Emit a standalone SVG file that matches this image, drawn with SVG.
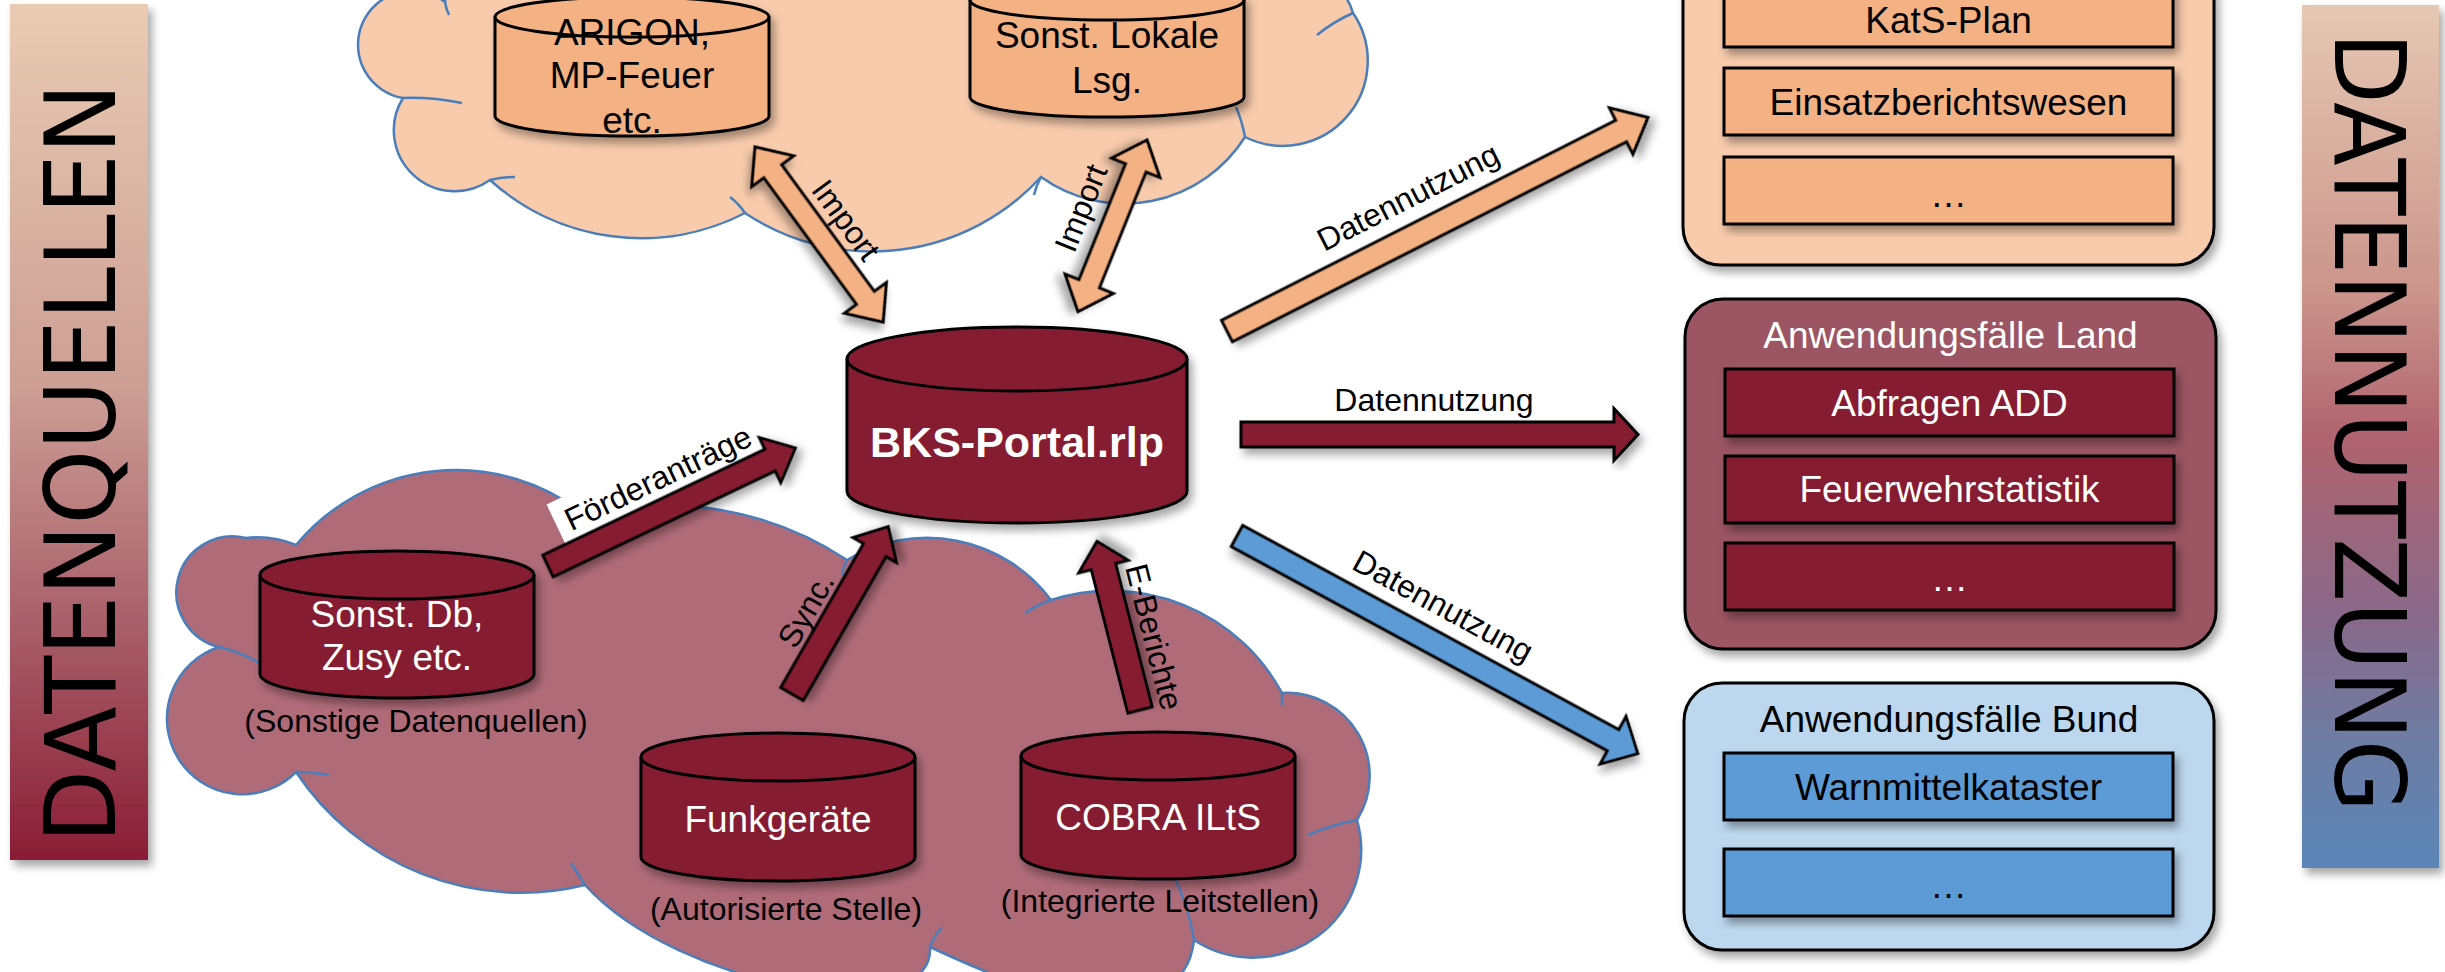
<svg xmlns="http://www.w3.org/2000/svg" width="2445" height="972" viewBox="0 0 2445 972">
<defs>
<linearGradient id="gL" x1="0" y1="0" x2="0" y2="1">
<stop offset="0" stop-color="#E9CBB3"/>
<stop offset="0.45" stop-color="#CC9E94"/>
<stop offset="0.72" stop-color="#A9606B"/>
<stop offset="1" stop-color="#8A1D35"/>
</linearGradient>
<linearGradient id="gR" x1="0" y1="0" x2="0" y2="1">
<stop offset="0" stop-color="#E6C8B2"/>
<stop offset="0.33" stop-color="#CB958C"/>
<stop offset="0.5" stop-color="#B0646F"/>
<stop offset="0.7" stop-color="#8A6888"/>
<stop offset="0.85" stop-color="#6E7CA2"/>
<stop offset="1" stop-color="#5B86B8"/>
</linearGradient>
<filter id="sh" x="-20%" y="-20%" width="140%" height="140%">
<feDropShadow dx="4" dy="6" stdDeviation="4" flood-color="#000" flood-opacity="0.35"/>
</filter>
</defs>
<style>
text { font-family: "Liberation Sans", Arial, sans-serif; }
.c { text-anchor: middle; font-size: 37px; }
.s { text-anchor: middle; font-size: 32px; }
.w { fill: #fff; }
.k { fill: #000; }
.cyl { stroke: #000; stroke-width: 3; }
.peach { fill: #F4B183; }
.mar { fill: #861C33; }
.blue { fill: #5B9BD5; }
.cloud { stroke: #4A7EBB; stroke-width: 2.5; }
.inner { fill: none; stroke: #4A7EBB; stroke-width: 2.5; }
.arr { stroke: #000; stroke-width: 3; stroke-linejoin: miter; filter: url(#sh); }
.box { stroke: #000; stroke-width: 3; filter: url(#sh); }
.bar { font-family: "DejaVu Sans", sans-serif; font-size: 98px; fill: #000; }
</style>

<!-- Side bars -->
<g id="bar-datenquellen">
<rect x="10" y="4" width="138" height="856" fill="url(#gL)" filter="url(#sh)"/>
<text class="bar" transform="translate(115,843) rotate(-90)" textLength="760" lengthAdjust="spacingAndGlyphs">DATENQUELLEN</text>
</g>
<g id="bar-datennutzung">
<rect x="2302" y="5" width="137" height="863" fill="url(#gR)" filter="url(#sh)"/>
<text class="bar" transform="translate(2335,32) rotate(90)" textLength="780" lengthAdjust="spacingAndGlyphs">DATENNUTZUNG</text>
</g>

<!-- Clouds -->
<g id="cloud-top">
<path class="cloud" fill="#F8CBAD" d="M445,2 A54,54 0 1 0 403,98 A61,61 0 0 0 490,180 A226,226 0 0 0 745,213 A229,229 0 0 0 1041,177 A143,143 0 0 0 1245,137 A85,85 0 0 0 1353,13 A60,60 0 0 0 1300,-30 L450,-30 Z"/>
<path class="inner" d="M445,2 Q446,9 449,15 M403,98 Q432,97 462,103 M490,180 Q502,177 515,177 M745,213 Q739,204 730,197 M1041,177 Q1036,186 1034,195 M1245,137 Q1242,121 1236,107 M1353,13 Q1333,22 1317,35"/>
</g>
<g id="cloud-bottom">
<path class="cloud" fill="#B06B79" d="M296,545 A208,208 0 0 1 585,515 A330,330 0 0 1 847,560 A155,155 0 0 1 1051,600 A195,195 0 0 1 1282,693 A83,83 0 0 1 1357,820 A108,108 0 0 1 1194,940 C1190,975 1170,1000 1100,1000 C1050,1000 990,975 930,947 C935,1030 680,990 585,885 A270,270 0 0 1 296,772 A75.5,75.5 0 1 1 219,647 A56,56 0 1 1 246,538 Q272,535 296,545 Z"/>
<path class="inner" d="M219,647 Q240,652 260,663 M296,772 Q312,772 329,775 M585,885 Q577,873 571,863 M930,947 Q934,936 942,927 M1194,940 Q1188,903 1172,873 M1357,820 Q1331,825 1308,835 M1282,693 L1282,706 M1051,600 Q1037,605 1025,613 M847,560 Q843,567 842,575"/>
</g>

<!-- Cylinders -->
<g id="cyl-arigon">
<path class="cyl peach" filter="url(#sh)" d="M495,17 L495,116 A137,20 0 0 0 769,116 L769,17 A137,20 0 0 0 495,17 Z"/>
<path class="cyl" fill="none" d="M495,17 A137,20 0 0 0 769,17"/>
<text class="c k" x="632" y="45">ARIGON,</text>
<text class="c k" x="632" y="88">MP-Feuer</text>
<text class="c k" x="632" y="133">etc.</text>
</g>
<g id="cyl-lokale">
<path class="cyl peach" filter="url(#sh)" d="M970,0 L970,97 A137,20 0 0 0 1244,97 L1244,0 A137,20 0 0 0 970,0 Z"/>
<path class="cyl" fill="none" d="M970,0 A137,20 0 0 0 1244,0"/>
<text class="c k" x="1107" y="48">Sonst. Lokale</text>
<text class="c k" x="1107" y="93">Lsg.</text>
</g>
<g id="cyl-bks">
<path class="cyl mar" filter="url(#sh)" d="M847,359 L847,491 A170,32 0 0 0 1187,491 L1187,359 A170,32 0 0 0 847,359 Z"/>
<path class="cyl" fill="none" d="M847,359 A170,32 0 0 0 1187,359"/>
<text class="w" x="1017" y="457" text-anchor="middle" font-size="43" font-weight="bold">BKS-Portal.rlp</text>
</g>
<g id="cyl-sonstdb">
<path class="cyl mar" filter="url(#sh)" d="M260,575 L260,674 A137,24 0 0 0 534,674 L534,575 A137,24 0 0 0 260,575 Z"/>
<path class="cyl" fill="none" d="M260,575 A137,24 0 0 0 534,575"/>
<text class="c w" x="397" y="627">Sonst. Db,</text>
<text class="c w" x="397" y="670">Zusy etc.</text>
<text class="s k" x="416" y="732">(Sonstige Datenquellen)</text>
</g>
<g id="cyl-funk">
<path class="cyl mar" filter="url(#sh)" d="M641,757 L641,857 A137,24 0 0 0 915,857 L915,757 A137,24 0 0 0 641,757 Z"/>
<path class="cyl" fill="none" d="M641,757 A137,24 0 0 0 915,757"/>
<text class="c w" x="778" y="832">Funkgeräte</text>
<text class="s k" x="786" y="920">(Autorisierte Stelle)</text>
</g>
<g id="cyl-cobra">
<path class="cyl mar" filter="url(#sh)" d="M1021,756 L1021,855 A137,24 0 0 0 1295,855 L1295,756 A137,24 0 0 0 1021,756 Z"/>
<path class="cyl" fill="none" d="M1021,756 A137,24 0 0 0 1295,756"/>
<text class="c w" x="1158" y="830">COBRA ILtS</text>
<text class="s k" x="1160" y="912">(Integrierte Leitstellen)</text>
</g>

<!-- Right boxes -->
<g id="box-kommunal">
<rect class="box" x="1683" y="-40" width="531" height="305" rx="38" fill="#F8CBAD"/>
<rect class="box peach" x="1724" y="-20" width="449" height="67"/>
<rect class="box peach" x="1724" y="68" width="449" height="67"/>
<rect class="box peach" x="1724" y="157" width="449" height="67"/>
<text class="c k" x="1948.5" y="33">KatS-Plan</text>
<text class="c k" x="1948.5" y="115">Einsatzberichtswesen</text>
<text class="c k" x="1948.5" y="207">…</text>
</g>
<g id="box-land">
<rect class="box" x="1685" y="299" width="531" height="350" rx="38" fill="#9B5564"/>
<text class="c w" x="1950.5" y="348">Anwendungsfälle Land</text>
<rect class="box mar" x="1725" y="369" width="449" height="67"/>
<rect class="box mar" x="1725" y="456" width="449" height="67"/>
<rect class="box mar" x="1725" y="543" width="449" height="67"/>
<text class="c w" x="1949.5" y="416">Abfragen ADD</text>
<text class="c w" x="1949.5" y="502">Feuerwehrstatistik</text>
<text class="c w" x="1949.5" y="591">…</text>
</g>
<g id="box-bund">
<rect class="box" x="1684" y="683" width="530" height="267" rx="38" fill="#BDD7EE"/>
<text class="c k" x="1949" y="732">Anwendungsfälle Bund</text>
<rect class="box blue" x="1724" y="753" width="449" height="67"/>
<rect class="box blue" x="1724" y="849" width="449" height="67"/>
<text class="c k" x="1948.5" y="800">Warnmittelkataster</text>
<text class="c k" x="1948.5" y="898">…</text>
</g>

<!-- Connectors -->
<g id="connectors">
<g id="arr-import-1">
<path class="arr peach" transform="translate(755,147) rotate(53.8)" d="M0,0 L30,-26 L30,-11 L187,-11 L187,-26 L217,0 L187,26 L187,11 L30,11 L30,26 Z"/>
<text class="s k" transform="translate(846,220) rotate(53.8)" x="0" y="11">Import</text>
</g>
<g id="arr-import-2">
<path class="arr peach" transform="translate(1147,140) rotate(111.9)" d="M0,0 L30,-26 L30,-11 L155,-11 L155,-26 L185,0 L155,26 L155,11 L30,11 L30,26 Z"/>
<text class="s k" transform="translate(1081,208) rotate(-68.1)" x="0" y="11">Import</text>
</g>
<g id="arr-dn-kommunal">
<path class="arr peach" transform="translate(1227,331) rotate(-26.9)" d="M0,-12 L442,-12 L442,-26 L472,0 L442,26 L442,12 L0,12 Z"/>
<text class="s k" transform="translate(1408,197) rotate(-26.9)" x="0" y="11">Datennutzung</text>
</g>
<g id="arr-dn-land">
<path class="arr mar" transform="translate(1241,434.5)" d="M0,-12.5 L373,-12.5 L373,-26 L397,0 L373,26 L373,12.5 L0,12.5 Z"/>
<text class="s k" x="1434" y="411">Datennutzung</text>
</g>
<g id="arr-dn-bund">
<path class="arr blue" transform="translate(1237,536) rotate(28.5)" d="M0,-12 L428,-12 L428,-27 L456,0 L428,27 L428,12 L0,12 Z"/>
<text class="s k" transform="translate(1443,606) rotate(28.5)" x="0" y="11">Datennutzung</text>
</g>
<g id="arr-foerder">
<rect transform="translate(658,478) rotate(-25.5)" x="-112" y="-24" width="224" height="46" fill="#fff"/>
<path class="arr mar" transform="translate(548,566) rotate(-25.5)" d="M0,-12 L246,-12 L246,-25 L274,0 L246,25 L246,12 L0,12 Z"/>
<text class="s k" transform="translate(658,478) rotate(-25.5)" x="0" y="11">Förderanträge</text>
</g>
<g id="arr-sync">
<path class="arr mar" transform="translate(792,694) rotate(-60.1)" d="M0,-13 L166,-13 L166,-25 L193,0 L166,25 L166,13 L0,13 Z"/>
<text class="s k" transform="translate(806,610) rotate(-60.1)" x="0" y="11">Sync.</text>
</g>
<g id="arr-eberichte">
<path class="arr mar" transform="translate(1140,710) rotate(-104.3)" d="M0,-12.5 L148,-12.5 L148,-25.5 L174,0 L148,25.5 L148,12.5 L0,12.5 Z"/>
<text class="s k" transform="translate(1154,637) rotate(75.7)" x="0" y="11">E-Berichte</text>
</g>
</g>
</svg>
